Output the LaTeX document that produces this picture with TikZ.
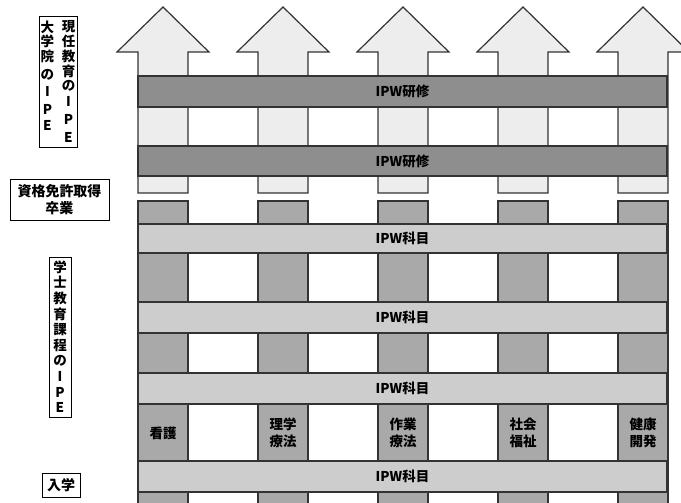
\documentclass[tikz,border=0pt]{standalone}
\usepackage{fontspec}
\newfontfamily\jp{Noto Sans CJK JP}
\definecolor{ln}{HTML}{333333}
\definecolor{darkband}{HTML}{8E8E8E}
\definecolor{lightband}{HTML}{CDCDCD}
\definecolor{lowcol}{HTML}{A9A9A9}
\definecolor{upcol}{HTML}{EDEDED}
\begin{document}
\begin{tikzpicture}[x=1pt,y=-1pt,line width=1.2pt,
  bandbox/.style={draw=ln,minimum width=529pt,inner sep=0pt,font=\jp\bfseries\fontsize{13.5}{15}\selectfont},
  darkbandbox/.style={bandbox,fill=darkband},
  lightbandbox/.style={bandbox,fill=lightband},
  uparrow/.style={draw=ln,fill=upcol,line join=miter},
  lowcolumn/.style={draw=ln,fill=lowcol},
  collabel/.style={font=\jp\bfseries\fontsize{13.5}{16.5}\selectfont,align=center,inner sep=0pt},
  sidebox/.style={draw=black,line width=1pt,inner sep=0pt},
  sidetext/.style={font=\jp\bfseries\fontsize{13.5}{14.8}\selectfont,align=center,inner sep=0pt}
]
\useasboundingbox (0,0) rectangle (681,503);
\fill[white] (0,0) rectangle (681,503);
% columns
\foreach \c in {163,283,403,523,643}{
  \draw[uparrow] (\c-25,193) -- (\c-25,52) -- (\c-46,52) -- (\c,7) -- (\c+46,52) -- (\c+25,52) -- (\c+25,193) -- cycle;
  \draw[lowcolumn] (\c-25,201) rectangle (\c+25,512);
}
% bands
\node[darkbandbox,minimum height=31pt] (b1) at (402.5,91.5) {IPW研修};
\node[darkbandbox,minimum height=30pt] (b2) at (402.5,161) {IPW研修};
\node[lightbandbox,minimum height=29pt] (b3) at (402.5,238.5) {IPW科目};
\node[lightbandbox,minimum height=31pt] (b4) at (402.5,317.5) {IPW科目};
\node[lightbandbox,minimum height=31pt] (b5) at (402.5,388.5) {IPW科目};
\node[lightbandbox,minimum height=31pt] (b6) at (402.5,476.5) {IPW科目};
% column labels
\node[collabel] (l1) at (163,433) {看護};
\node[collabel] (l2) at (283,433) {理学\\療法};
\node[collabel] (l3) at (403,433) {作業\\療法};
\node[collabel] (l4) at (523,433) {社会\\福祉};
\node[collabel] (l5) at (643,433) {健康\\開発};
% side labels
\node[sidebox,minimum width=38pt,minimum height=131pt] (s1) at (58,82.5) {};
\node[sidetext,anchor=north] (s1a) at (68.5,20) {現\\任\\教\\育\\の\\[1pt]I\\[3pt]P\\[3pt]E};
\node[sidetext,anchor=north] (s1b) at (47.5,20) {大\\学\\院\\[3pt]の\\[2pt]I\\[3pt]P\\[2pt]E};
\node[sidebox,minimum width=99pt,minimum height=41pt,font=\jp\bfseries\fontsize{14}{17}\selectfont,align=center] (s2) at (59.5,199.5) {資格免許取得\\卒業};
\node[sidebox,minimum width=22pt,minimum height=160pt] (s3) at (60,337) {};
\node[sidetext,anchor=north,font=\jp\bfseries\fontsize{13.5}{15.6}\selectfont] (s3a) at (60,260) {学\\士\\教\\育\\課\\程\\の\\I\\P\\E};
\node[sidebox,minimum width=38pt,minimum height=24pt,font=\jp\bfseries\fontsize{14}{16}\selectfont] (s4) at (61,485) {入学};
\end{tikzpicture}
\end{document}
